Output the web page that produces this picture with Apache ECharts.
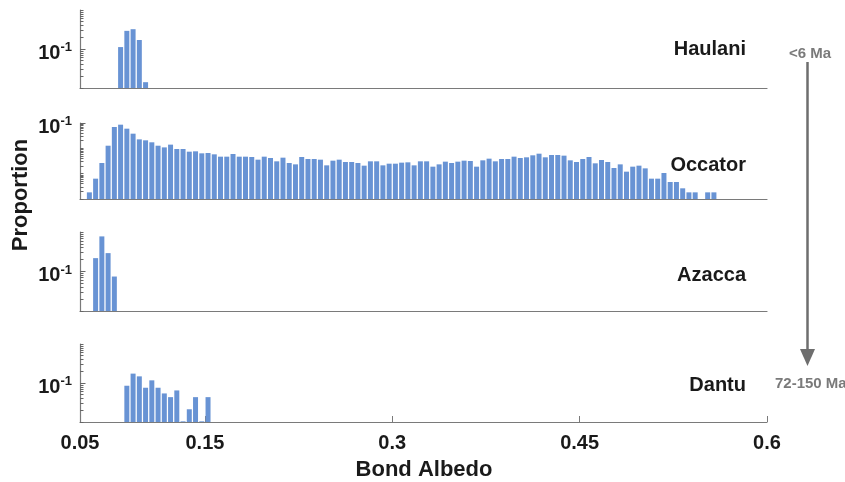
<!DOCTYPE html>
<html>
<head>
<meta charset="utf-8">
<script src="https://cdn.jsdelivr.net/npm/echarts@6/dist/echarts.min.js"></script>
<style>
  html, body { margin: 0; padding: 0; background: #ffffff; }
  #chart { width: 845px; height: 482px; }
</style>
</head>
<body>
<div id="chart"></div>
<script>
// Bond albedo histograms: proportion of pixels per 0.005-wide albedo bin (bin centres on x)
const haulaniBins = [0.0825, 0.0875, 0.0925, 0.0975, 0.1025];
const haulaniValues = [0.112, 0.292, 0.322, 0.17, 0.0141];

const occatorBins = [
  0.0575, 0.0625, 0.0675, 0.0725, 0.0775, 0.0825, 0.0875, 0.0925, 0.0975, 0.1025,
  0.1075, 0.1125, 0.1175, 0.1225, 0.1275, 0.1325, 0.1375, 0.1425, 0.1475, 0.1525,
  0.1575, 0.1625, 0.1675, 0.1725, 0.1775, 0.1825, 0.1875, 0.1925, 0.1975, 0.2025,
  0.2075, 0.2125, 0.2175, 0.2225, 0.2275, 0.2325, 0.2375, 0.2425, 0.2475, 0.2525,
  0.2575, 0.2625, 0.2675, 0.2725, 0.2775, 0.2825, 0.2875, 0.2925, 0.2975, 0.3025,
  0.3075, 0.3125, 0.3175, 0.3225, 0.3275, 0.3325, 0.3375, 0.3425, 0.3475, 0.3525,
  0.3575, 0.3625, 0.3675, 0.3725, 0.3775, 0.3825, 0.3875, 0.3925, 0.3975, 0.4025,
  0.4075, 0.4125, 0.4175, 0.4225, 0.4275, 0.4325, 0.4375, 0.4425, 0.4475, 0.4525,
  0.4575, 0.4625, 0.4675, 0.4725, 0.4775, 0.4825, 0.4875, 0.4925, 0.4975, 0.5025,
  0.5075, 0.5125, 0.5175, 0.5225, 0.5275, 0.5325, 0.5375, 0.5425, 0.5475, 0.5525,
  0.5575
];
const occatorValues = [
  0.000183, 0.000635, 0.00264, 0.0127, 0.0695, 0.0859, 0.0597, 0.0379, 0.0226, 0.0207,
  0.0173, 0.0127, 0.0109, 0.0140, 0.00941, 0.00941, 0.00738, 0.00762, 0.00635, 0.00654,
  0.00580, 0.00469, 0.00469, 0.00597, 0.00469, 0.00469, 0.00455, 0.00357, 0.00469, 0.00415,
  0.00307, 0.00428, 0.00264, 0.00233, 0.00455, 0.00379, 0.00379, 0.00357, 0.00213, 0.00326,
  0.00357, 0.00289, 0.00289, 0.00264, 0.00207, 0.00307, 0.00307, 0.00213, 0.00248, 0.00248,
  0.00272, 0.00280, 0.00213, 0.00307, 0.00307, 0.00189, 0.00233, 0.00298, 0.00264, 0.00298,
  0.00326, 0.00316, 0.00189, 0.00336, 0.00391, 0.00307, 0.00379, 0.00379, 0.00469, 0.00415,
  0.00442, 0.00530, 0.00615, 0.00442, 0.00546, 0.00546, 0.00514, 0.00336, 0.00289, 0.00379,
  0.00455, 0.00256, 0.00346, 0.00289, 0.00167, 0.00233, 0.00120, 0.00189, 0.00207, 0.00162,
  0.000635, 0.000635, 0.00106, 0.000469, 0.000469, 0.000264, 0.000183, 0.000183, 0, 0.000183,
  0.000183
];

const azaccaBins = [0.0625, 0.0675, 0.0725, 0.0775];
const azaccaValues = [0.218, 0.774, 0.292, 0.0746];

const dantuBins = [0.0875, 0.0925, 0.0975, 0.1025, 0.1075, 0.1125, 0.1175,
                   0.1225, 0.1275, 0.1325, 0.1375, 0.1425, 0.1475, 0.1525];
const dantuValues = [0.0851, 0.174, 0.148, 0.0756, 0.117, 0.0756, 0.054,
                     0.0434, 0.0645, 0.0104, 0.0212, 0.0434, 0.0104, 0.0434];

const xTickValues = [0.05, 0.15, 0.3, 0.45, 0.6];
const yLabelValues = [0.1];
const panelNames = ['Haulani', 'Occator', 'Azacca', 'Dantu'];
const ageLabels = ['<6 Ma', '72-150 Ma'];

const BIN_WIDTH = 0.005;
const BAR_COLOR = '#6893d4';
const AXIS_COLOR = '#7a7a7a';
const TEXT_COLOR = '#1a1a1a';
const FONT = '"Liberation Sans", Arial, Helvetica, sans-serif';

const panels = [
  { bins: haulaniBins, values: haulaniValues, yMin: 0.01,   yMax: 1,   top: 10,  height: 78 },
  { bins: occatorBins, values: occatorValues, yMin: 0.0001, yMax: 0.1, top: 123, height: 76 },
  { bins: azaccaBins,  values: azaccaValues,  yMin: 0.01,   yMax: 1,   top: 232, height: 79 },
  { bins: dantuBins,   values: dantuValues,   yMin: 0.01,   yMax: 1,   top: 344, height: 78 }
];
const labelY = [49, 165, 275, 385];

// log-axis minor tick positions (1..9 × each decade) between yMin and yMax
function logTicks(yMin, yMax) {
  const out = [];
  for (let e = Math.round(Math.log10(yMin)); e <= Math.round(Math.log10(yMax)); e++) {
    for (let m = 1; m <= 9; m++) {
      const v = parseFloat((m * Math.pow(10, e)).toPrecision(6));
      if (v >= yMin * 0.999 && v <= yMax * 1.001) out.push(v);
    }
  }
  return out;
}

function barRenderer(yMin) {
  return function (params, api) {
    const x = api.value(0);
    const v = api.value(1);
    if (!(v > 0)) return;
    const left = api.coord([x - BIN_WIDTH * 0.4, v]);
    const right = api.coord([x + BIN_WIDTH * 0.4, v]);
    const base = api.coord([x, yMin]);
    return {
      type: 'rect',
      shape: { x: left[0], y: left[1], width: right[0] - left[0], height: base[1] - left[1] },
      style: { fill: BAR_COLOR }
    };
  };
}

const grid = [], xAxis = [], yAxis = [], series = [];
panels.forEach(function (p, i) {
  const isLast = i === panels.length - 1;
  grid.push({ left: 80, width: 687, top: p.top, height: p.height });
  xAxis.push({
    type: 'value', gridIndex: i, min: 0.05, max: 0.6,
    axisLine: { show: true, lineStyle: { color: AXIS_COLOR, width: 1.2 } },
    axisTick: { show: isLast, inside: true, length: 6, customValues: xTickValues,
                lineStyle: { color: AXIS_COLOR } },
    axisLabel: { show: isLast, customValues: xTickValues, margin: 11,
                 fontFamily: FONT, fontWeight: 'bold', fontSize: 20, color: TEXT_COLOR,
                 formatter: function (v) { return String(parseFloat(v.toFixed(2))); } },
    splitLine: { show: false }
  });
  // minor ticks + axis line
  yAxis.push({
    type: 'log', logBase: 10, gridIndex: i, min: p.yMin, max: p.yMax,
    axisLine: { show: true, lineStyle: { color: AXIS_COLOR, width: 1.2 } },
    axisTick: { show: true, inside: true, length: 3.5, customValues: logTicks(p.yMin, p.yMax),
                lineStyle: { color: '#666666' } },
    axisLabel: { show: false },
    splitLine: { show: false }
  });
  // labelled major tick
  yAxis.push({
    type: 'log', logBase: 10, gridIndex: i, min: p.yMin, max: p.yMax, position: 'left', offset: 0,
    axisLine: { show: false },
    axisTick: { show: true, inside: true, length: 5.5, customValues: yLabelValues,
                lineStyle: { color: '#666666' } },
    axisLabel: {
      show: true, customValues: yLabelValues, margin: 8, padding: [8, 0, 0, 0],
      formatter: function () { return '{b|10}{s|-1}'; },
      rich: {
        b: { fontFamily: FONT, fontWeight: 'bold', fontSize: 20, color: TEXT_COLOR, lineHeight: 24 },
        s: { fontFamily: FONT, fontWeight: 'bold', fontSize: 13, color: TEXT_COLOR,
             verticalAlign: 'top', lineHeight: 24, padding: [0, 0, 10, 0] }
      }
    },
    splitLine: { show: false }
  });
  series.push({
    type: 'custom', xAxisIndex: i, yAxisIndex: i * 2,
    renderItem: barRenderer(p.yMin),
    data: p.bins.map(function (b, k) { return [b, p.values[k]]; }),
    encode: { x: 0, y: 1 },
    silent: true
  });
});

const graphic = [];
panelNames.forEach(function (name, i) {
  graphic.push({
    type: 'text', x: 746, y: labelY[i],
    style: { text: name, fill: TEXT_COLOR, font: 'bold 20px ' + FONT,
             textAlign: 'right', textVerticalAlign: 'middle' }
  });
});
graphic.push(
  { type: 'text', x: 21, y: 195, rotation: Math.PI / 2,
    style: { text: 'Proportion', fill: TEXT_COLOR, font: 'bold 22px ' + FONT,
             textAlign: 'center', textVerticalAlign: 'middle' } },
  { type: 'text', x: 424, y: 470,
    style: { text: 'Bond Albedo', fill: TEXT_COLOR, font: 'bold 22px ' + FONT,
             textAlign: 'center', textVerticalAlign: 'middle' } },
  { type: 'text', x: 810, y: 54,
    style: { text: ageLabels[0], fill: '#7a7a7a', font: 'bold 15px ' + FONT,
             textAlign: 'center', textVerticalAlign: 'middle' } },
  { type: 'text', x: 775, y: 384,
    style: { text: ageLabels[1], fill: '#7a7a7a', font: 'bold 15px ' + FONT,
             textAlign: 'left', textVerticalAlign: 'middle' } },
  { type: 'line', shape: { x1: 807.5, y1: 62, x2: 807.5, y2: 352 },
    style: { stroke: '#6e6e6e', lineWidth: 2.5 } },
  { type: 'polygon', shape: { points: [[800, 349], [815, 349], [807.5, 366]] },
    style: { fill: '#6e6e6e' } }
);

const chart = echarts.init(document.getElementById('chart'), null, { renderer: 'canvas' });
chart.setOption({
  animation: false,
  backgroundColor: '#ffffff',
  grid: grid,
  xAxis: xAxis,
  yAxis: yAxis,
  series: series,
  graphic: graphic
});
</script>
</body>
</html>
